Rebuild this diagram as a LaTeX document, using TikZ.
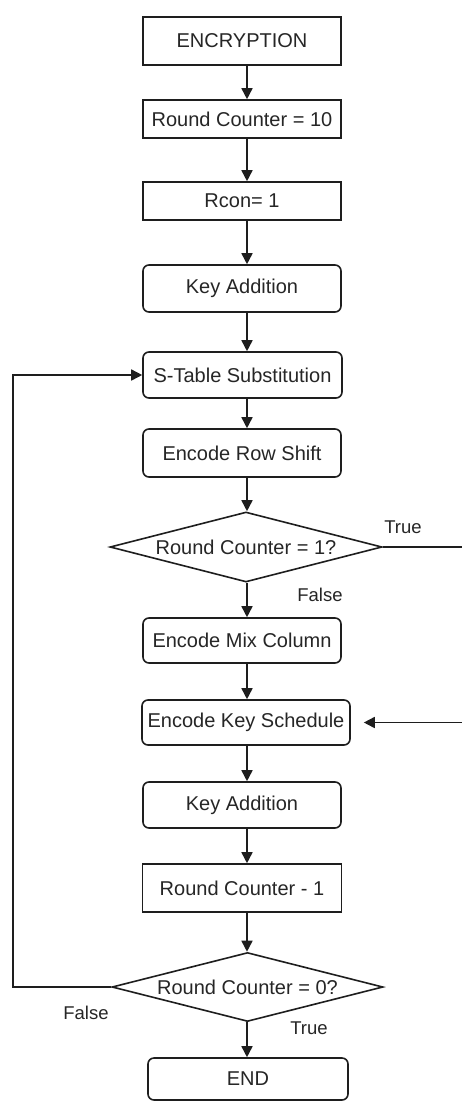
\documentclass[tikz,border=0pt]{standalone}
\usepackage{fontspec}
\setmainfont{Liberation Sans}
\usetikzlibrary{arrows.meta,shapes.geometric}
\definecolor{ln}{HTML}{1E1E1E}
\definecolor{tx}{HTML}{262626}
\begin{document}
\begin{tikzpicture}[x=1pt,y=-1pt,
  every node/.style={font=\fontsize{20}{22}\selectfont, text=tx},
  box/.style={draw=ln, line width=1.6pt, minimum width=198pt, inner sep=0pt},
  rbox/.style={box, rounded corners=6pt},
  dec/.style={draw=ln, line width=1.6pt, shape=diamond, shape aspect=3.9, inner sep=0pt, minimum width=272pt, minimum height=70pt},
  lbl/.style={font=\fontsize{18.5}{20}\selectfont},
  arr/.style={draw=ln, line width=1.6pt, -{Triangle[length=11pt,width=11pt]}}]
\useasboundingbox (0,0) rectangle (462,1104);
\fill[white] (0,0) rectangle (462,1104);
\node[box, minimum height=48pt] (enc) at (242,41) {ENCRYPTION};
\node[box, minimum height=38pt] (rc10) at (242,119) {Round Counter = 10};
\node[box, minimum height=38pt] (rcon) at (242,201) {Rcon= 1};
\node[rbox, minimum height=47pt] (ka1) at (242,288.5) {Key Addition};
\node[rbox, minimum height=46pt, minimum width=199pt] (stab) at (242.5,375) {S-Table Substitution};
\node[rbox, minimum height=48pt] (row) at (242,453) {Encode Row Shift};
\node[dec] (d1) at (246,547) {Round Counter = 1?};
\node[rbox, minimum height=45pt] (mix) at (242,640.5) {Encode Mix Column};
\node[rbox, minimum height=45pt, minimum width=208pt] (ks) at (246,722.5) {Encode Key Schedule};
\node[rbox, minimum height=46pt] (ka2) at (242,805) {Key Addition};
\node[box, minimum height=48pt, minimum width=199pt] (rc1) at (242,888) {Round Counter - 1};
\node[dec, minimum width=271pt, minimum height=69pt] (d2) at (247.5,987) {Round Counter = 0?};
\node[rbox, minimum height=42pt, minimum width=200pt] (end) at (248,1079) {END};

\coordinate (vx) at (247,0);
\foreach \a/\b in {enc/rc10, rc10/rcon, rcon/ka1, ka1/stab, stab/row, row/d1, d1/mix, mix/ks, ks/ka2, ka2/rc1, rc1/d2, d2/end}{
  \draw[arr] (vx |- \a.south) -- (vx |- \b.north);
}
\coordinate (tr) at (465,547);
\coordinate (lf) at (13,987);
\draw[arr, shorten >=13pt] (d1.east) -- (tr) |- (ks.east);
\draw[arr] (d2.west) -- (lf) |- (stab.west);

\node[lbl] (t1) at (403,527) {True};
\node[lbl] (f1) at (320,595) {False};
\node[lbl] (f2) at (86,1013) {False};
\node[lbl] (t2) at (309,1028) {True};
\end{tikzpicture}
\end{document}
